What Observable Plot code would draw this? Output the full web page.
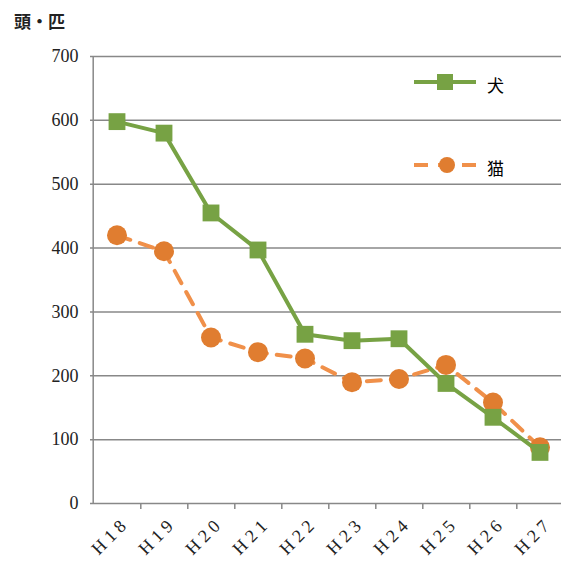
<!DOCTYPE html>
<html><head><meta charset="utf-8">
<script src="https://cdn.jsdelivr.net/npm/d3@7/dist/d3.min.js"></script>
<script src="https://cdn.jsdelivr.net/npm/@observablehq/plot@0.6/dist/plot.umd.min.js"></script>
<style>
body{margin:0;background:#fff;}
#wrap{position:relative;width:561px;height:569px;}
#title{position:absolute;left:14px;top:8px;font:bold 17px "Noto Sans CJK JP",sans-serif;color:#222;}
.leg{position:absolute;font:17px "Noto Sans CJK JP",sans-serif;}
#chart text{font-family:"Liberation Serif","DejaVu Serif",serif;font-size:18px;fill:#222;}
</style></head><body>
<div id="wrap"><div id="title">頭・匹</div><div id="chart" style="position:absolute;top:35px;left:0"></div></div>
<script>
const years = ["H 1 8","H 1 9","H 2 0","H 2 1","H 2 2","H 2 3","H 2 4","H 2 5","H 2 6","H 2 7"];
const dogs = [598, 580, 455, 397, 265, 255, 258, 188, 135, 80];
const cats = [420, 395, 260, 237, 227, 190, 195, 217, 158, 88];
const green = "#77a244", orange = "#f0904a", orangeDot = "#e07d30";
const dogData = years.map((y, i) => ({year: y, v: dogs[i]}));
const catData = years.map((y, i) => ({year: y, v: cats[i]}));

const plot = Plot.plot({
  width: 561, height: 534,
  marginLeft: 90, marginRight: -5, marginTop: 21, marginBottom: 66,
  x: {type: "band", domain: years, label: null, padding: 0},
  y: {domain: [0, 700], label: null},
  marks: [
    Plot.gridY(d3.range(100, 701, 100), {stroke: "#888", strokeOpacity: 1, strokeWidth: 1.5}),
    Plot.ruleY([0], {stroke: "#888", strokeWidth: 1.5}),
    Plot.ruleX([years[0]], {dx: -23.8, stroke: "#888", strokeWidth: 1.5}),
    Plot.axisY(d3.range(0, 701, 100), {tickSize: 0, tickPadding: 12, label: null}),
    Plot.axisX({tickSize: 6, text: null, dx: 23.8, stroke: "#888", strokeWidth: 1.5, label: null}),
    Plot.axisX({tickSize: 0, tickRotate: -45, dx: 6, dy: 8, label: null}),
    Plot.line(catData, {x: "year", y: "v", stroke: orange, strokeWidth: 4, strokeDasharray: "14,10"}),
    Plot.dot(catData, {x: "year", y: "v", r: 10, fill: orangeDot}),
    Plot.line(dogData, {x: "year", y: "v", stroke: green, strokeWidth: 4}),
    Plot.dot(dogData, {x: "year", y: "v", r: 9.5, symbol: "square", fill: green}),
  ]
});
document.getElementById("chart").appendChild(plot);

// legend
const wrap = document.getElementById("wrap");
const leg = document.createElementNS("http://www.w3.org/2000/svg", "svg");
leg.setAttribute("width", 90); leg.setAttribute("height", 110);
leg.style.position = "absolute"; leg.style.left = "410px"; leg.style.top = "70px";
leg.innerHTML = `<line x1="4" x2="66" y1="12" y2="12" stroke="${green}" stroke-width="4"/>
<rect x="27" y="4" width="16" height="16" fill="${green}"/>
<line x1="4" x2="66" y1="95" y2="95" stroke="${orange}" stroke-width="4" stroke-dasharray="14,10"/>
<circle cx="37" cy="95" r="8" fill="${orangeDot}"/>`;
wrap.appendChild(leg);
[["犬", 72], ["猫", 155]].forEach(([t, top]) => {
  const d = document.createElement("div"); d.className = "leg"; d.textContent = t;
  d.style.left = "487px"; d.style.top = top + "px"; wrap.appendChild(d);
});
</script></body></html>
